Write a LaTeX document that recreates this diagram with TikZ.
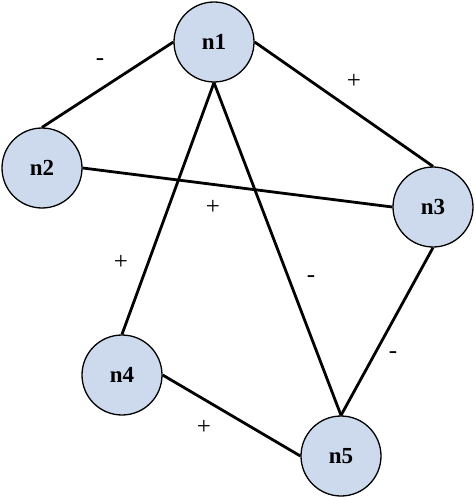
\documentclass[tikz,border=0pt]{standalone}
\usepackage{fontspec}
\setmainfont{Liberation Serif}
\definecolor{nodefill}{RGB}{205,218,238}
\begin{document}
\begin{tikzpicture}[x=1pt,y=-1pt,
  vertex/.style={circle,draw=black,line width=1.3pt,fill=nodefill,minimum size=80pt,inner sep=0pt,font=\fontsize{23}{25}\selectfont\bfseries},
  link/.style={line width=2.8pt},
  sign/.style={font=\fontsize{25}{27}\selectfont,inner sep=0pt}]
\useasboundingbox (0,0) rectangle (474,497);
\node[vertex] (n1) at (214,42) {n1};
\node[vertex] (n2) at (42,168) {n2};
\node[vertex] (n3) at (433,207) {n3};
\node[vertex] (n4) at (122,375) {n4};
\node[vertex] (n5) at (341,456) {n5};
\draw[link] (n1.west) -- (n2.north);
\draw[link] (n1.east) -- (n3.north);
\draw[link] (n2.east) -- (n3.west);
\draw[link] (n1.south) -- (n4.north);
\draw[link] (n1.south) -- (n5.north);
\draw[link] (n3.south) -- (n5.north);
\draw[link] (n4.east) -- (n5.west);
\node[sign] (s12) at (100,62) {-};
\node[sign] (s13) at (354,81) {+};
\node[sign] (s23) at (213,207) {+};
\node[sign] (s14) at (121,262) {+};
\node[sign] (s15) at (311,279) {-};
\node[sign] (s35) at (393,355) {-};
\node[sign] (s45) at (204,427) {+};
\end{tikzpicture}
\end{document}
